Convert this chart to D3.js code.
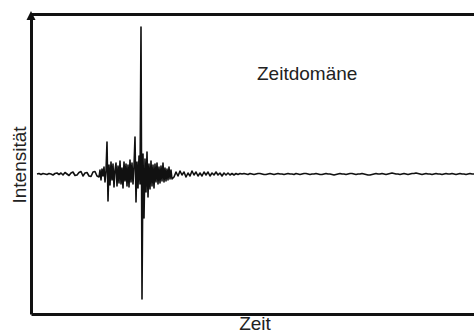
<!DOCTYPE html>
<html lang="de">
  <head>
  <meta charset="utf-8">
  <script type="text/javascript" src="https://cdn.jsdelivr.net/npm/d3@7"></script>
  <style type="text/css">
    body {
      margin: 0px;
      background: #fff;
    }
    .signal {
      fill: none;
      stroke: #111;
      stroke-width: 1.6;
      stroke-linejoin: round;
    }
    .frame path {
      stroke: #111;
      stroke-width: 3;
    }
    .label {
      font-family: "Liberation Sans", Arial, sans-serif;
      font-size: 19px;
      fill: #222;
    }
  </style>
  </head>

  <body>
    <div id="svg"></div>
    <script type="text/javascript">
      // amplitude samples (positive = up), three stretches with their own sampling step
      var preStart = 6, preStep = 2;
      var preSignal = [0,0.5,-0.5,0.5,0,-0.5,0.5,0,-1,0.5,1,-0.5,
                       1,-1,1.5,0,-1.5,1,2,-1.5,-1,1.5,2.5,-2,1,1.5,-2,
                       -2.5,2,2.5,-2];

      var denseStep = 1;
      var denseSignal = [
        -3,4,-6,5,-2,7,-8,3,
        32,-27,9,-11,12,-6,10,-13,4,11,-12,8,-9,13,-10,6,-14,12,-7,10,-12,9,-13,14,-8,11,-10,8,
        37,-28,12,-14,18,-10,147,-125,20,-44,15,-18,22,-23,10,-15,13,-12,9,-14,10,-8,11,-10,
        7,-9,8,-7,11,-8,6,-7,5,-6,7,-5,4,-5
      ];

      var postStep = 2;
      var postSignal = [
        -3,2,-2,3,-1,2,-3,1,-2,3,-1,2,-2,1,-2,2,-1,2,-2,1,-1,2,-1,1,-2,1,-1,1,-1,0.5,-1,0.5,-0.5,0.5,
        0,0.5,0,-0.5,0.5,0,-0.5,0,0.5,0.5,0,-0.5,-0.5,0,0.5,0,-0.5,0,0.5,0,
        0,-0.5,0,0.5,0,0,-0.5,0.5,0,-0.5,0,0.5,0.5,0,-0.5,0,0,0.5,0,-0.5,
        -0.5,0,0.5,0,0,-0.5,-1,-0.5,0,0.5,0,0,-0.5,0,0.5,0.5,0,-0.5,0,0,
        0.5,0,-0.5,-1,-1,-0.5,0,0.5,0,0,0.5,0,-0.5,0,0.5,1,0.5,0,0,-0.5,
        0,0.5,0,-0.5,0,0.5,0.5,1,0.5,0,-0.5,0,0.5,0,0,-0.5,0,0.5,0,0,
        -0.5,0,0.5,0,0,0.5,0,-0.5,0,0.5,0,0,-0.5,0,0.5,0,0
      ];

      // build the (time, amplitude) table
      var signal = [];
      var t = preStart;
      preSignal.forEach(function(v) { signal.push({t: t, v: v}); t += preStep; });
      denseSignal.forEach(function(v) { signal.push({t: t, v: v}); t += denseStep; });
      t += postStep - denseStep;
      postSignal.forEach(function(v) { signal.push({t: t, v: v}); t += postStep; });

      var width = 474, height = 333;

      var svg = d3.select("#svg").append("svg")
        .attr("width", width)
        .attr("height", height);

      var x = d3.scaleLinear()
        .domain([0, 443])
        .range([31, 474]);
      var y = d3.scaleLinear()
        .domain([-140, 160])
        .range([314, 14]);

      // frame: left, bottom, top
      svg.append("g")
        .attr("class", "frame")
        .attr("transform", "translate(" + x(0) + ",0)")
        .call(d3.axisLeft(y).ticks(0).tickSizeOuter(0));
      svg.append("g")
        .attr("class", "frame")
        .attr("transform", "translate(0," + y(-140) + ")")
        .call(d3.axisBottom(x).ticks(0).tickSizeOuter(0));
      svg.append("g")
        .attr("class", "frame")
        .attr("transform", "translate(0," + y(160) + ")")
        .call(d3.axisTop(x).ticks(0).tickSizeOuter(0));

      // arrow head on the y axis
      var ax = x(0), ay = y(160);
      svg.append("path")
        .attr("d", "M" + (ax - 4.5) + "," + (ay + 6) + "L" + ax + "," + (ay - 3) + "L" + (ax + 4.5) + "," + (ay + 6) + "Z")
        .attr("fill", "#111");

      var line = d3.line()
        .x(function(d) { return x(d.t); })
        .y(function(d) { return y(d.v); });

      svg.append("path")
        .datum(signal)
        .attr("class", "signal")
        .attr("d", line);

      // labels
      svg.append("text")
        .attr("class", "label")
        .attr("x", 257)
        .attr("y", 80)
        .text("Zeitdomäne");
      svg.append("text")
        .attr("class", "label")
        .attr("x", 255)
        .attr("y", 330)
        .style("text-anchor", "middle")
        .text("Zeit");
      svg.append("text")
        .attr("class", "label")
        .attr("transform", "translate(26,165) rotate(-90)")
        .style("text-anchor", "middle")
        .text("Intensität");
    </script>
  </body>
</html>
